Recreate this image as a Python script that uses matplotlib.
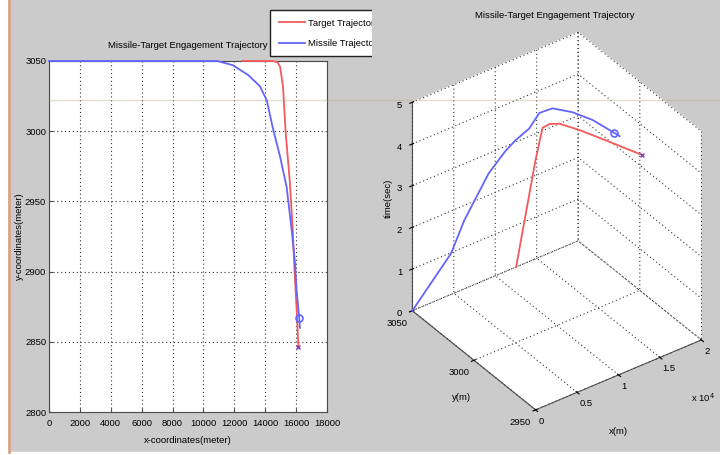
import matplotlib

matplotlib.use("Agg")
import matplotlib.pyplot as plt
from matplotlib.lines import Line2D
from matplotlib.patches import Rectangle
from matplotlib.ticker import FuncFormatter

# --- left panel: x-y engagement -------------------------------------------
target_x = [12500, 14500, 14800, 14960, 15150, 15325, 15600, 15780, 15900, 16050, 16150]
target_y = [3050, 3050, 3049, 3046, 3032, 2999, 2963, 2930, 2900, 2870, 2846]
missile_x = [0, 10900, 11900, 12900, 13660, 14100, 14520, 14960, 15390, 15710,
             15930, 16030, 16200, 16250]
missile_y = [3050, 3050, 3047, 3040, 3032, 3022, 3001, 2982, 2960, 2930,
             2906, 2887, 2867, 2860]
missile_end = (16200, 2867)
target_end = (16150, 2846)

xticks = list(range(0, 18001, 2000))
yticks = list(range(2800, 3051, 50))

# --- right panel: x, y, time ----------------------------------------------
target3_x = [12520, 14840, 15700, 16110, 16270, 16440, 16590, 17020]
target3_y = [3050, 3050, 3050, 3047, 3040, 3025, 3005, 2978]
target3_t = [0.0, 2.35, 3.07, 3.20, 3.36, 3.55, 3.77, 4.02]
missile3_x = [0, 4660, 6260, 9200, 11170, 12390, 13800, 14580, 15410, 16040,
              16370, 16620, 16680]
missile3_y = [3050, 3050, 3050, 3050, 3050, 3050, 3048, 3045, 3040, 3028,
              3014, 2998, 2994]
missile3_t = [0.0, 0.98, 1.64, 2.52, 2.88, 3.04, 3.26, 3.64, 3.80, 3.94,
              4.06, 4.11, 4.12]

title = "Missile-Target Engagement Trajectory"
BG = "#cbcbcb"
RED = "#f45a5a"
BLUE = "#6464ff"
AX = "#4a4a4a"
FS = 6.8

plt.rcParams["font.family"] = ["Liberation Sans", "DejaVu Sans"]
plt.rcParams["font.size"] = FS
plt.rcParams["grid.linestyle"] = (0, (1, 2.5))
plt.rcParams["grid.color"] = "#333333"
plt.rcParams["grid.linewidth"] = 0.8

fig = plt.figure(figsize=(7.2, 4.55), dpi=100, facecolor=BG)

W, H = 720, 455
ax = fig.add_axes([49 / W, 1 - 412 / H, 278 / W, 351 / H])
ax.plot(target_x, target_y, color=RED, lw=1.3, label="Target Trajectory",
        clip_on=False, zorder=4)
ax.plot(missile_x, missile_y, color=BLUE, lw=1.3, label="Missile Trajectory",
        clip_on=False, zorder=4)
ax.plot(*missile_end, "o", ms=5, mfc="none", mec=BLUE, mew=1.2, zorder=5)
ax.plot(*target_end, "x", ms=3, color="#8040c0", mew=1, zorder=5)
ax.set_xlim(0, 18000)
ax.set_ylim(2800, 3050)
ax.set_xticks(xticks)
ax.set_yticks(yticks)
ax.grid(True)
ax.tick_params(direction="in", length=3, color=AX, pad=2)
ax.tick_params(axis="x", pad=5)
for s in ax.spines.values():
    s.set_color(AX)
ax.set_title(title, pad=9, fontsize=FS)
ax.set_xlabel("x-coordinates(meter)", labelpad=6)
ax.set_ylabel("y-coordinates(meter)")
ax.yaxis.set_label_coords(-0.09, 0.5)
leg = ax.legend(loc="upper left", bbox_to_anchor=(270 / W, 1 - 10 / H),
                bbox_transform=fig.transFigure, borderaxespad=0, fancybox=False,
                framealpha=1, edgecolor="#222222", handlelength=2.8,
                handletextpad=0.3, borderpad=0.9, labelspacing=1.2)
leg.get_frame().set_linewidth(1.0)

# gray strip that hides the part of the legend running into the right panel
fig.add_artist(Rectangle((372 / W, 1 - 70 / H), 1, 70 / H, transform=fig.transFigure,
                         facecolor=BG, edgecolor="none", zorder=1))

# --- 3-D panel ----------------------------------------------------------
ax3 = fig.add_axes([371 / W, 1 - 452 / H, 362 / W, 452 / H], projection="3d")
ax3.set_zorder(1.5)
ax3.set_facecolor("none")
ax3.set_proj_type("ortho")
ax3.view_init(elev=35.6, azim=-125.9)
ax3.set_box_aspect((206, 211.6, 258), zoom=1.045)
ax3.plot(target3_x, target3_y, target3_t, color=RED, lw=1.3)
ax3.plot(missile3_x, missile3_y, missile3_t, color=BLUE, lw=1.3)
ax3.plot([missile3_x[-2]], [missile3_y[-2]], [missile3_t[-2]], "o", ms=5,
         mfc="none", mec=BLUE, mew=1.2)
ax3.plot([target3_x[-1]], [target3_y[-1]], [target3_t[-1]], "x", ms=3,
         color="#8040c0", mew=1)
ax3.set_xlim(0, 20000)
ax3.set_ylim(2950, 3050)
ax3.set_zlim(0, 5)
ax3.set_xticks([0, 5000, 10000, 15000, 20000])
ax3.xaxis.set_major_formatter(FuncFormatter(lambda v, p: f"{v / 1e4:g}"))
ax3.set_yticks([2950, 3000, 3050])
ax3.set_zticks([0, 1, 2, 3, 4, 5])
ax3.tick_params(axis="x", pad=-5)
ax3.tick_params(axis="y", pad=-4)
ax3.tick_params(axis="z", pad=-2)
for lab in ax3.get_yticklabels():
    lab.set_ha("right")
for lab in ax3.get_xticklabels():
    lab.set_ha("left")
for a in (ax3.xaxis, ax3.yaxis, ax3.zaxis):
    a.set_pane_color((1, 1, 1, 1))
    a.pane.set_edgecolor("white")
    a.line.set_color(AX)
fig.text(703 / W, 1 - 398 / H, r"x 10$^4$", ha="center", va="center", zorder=3)
fig.text(555 / W, 1 - 15 / H, title, ha="center", va="center", zorder=3)
fig.text(618 / W, 1 - 431 / H, "x(m)", ha="center", va="center", zorder=3)
fig.text(462 / W, 1 - 398 / H, "y(m)", ha="center", va="center", zorder=3)
fig.text(388 / W, 1 - 198 / H, "time(sec)", ha="center", va="center", rotation=90,
         zorder=3)

# screenshot edges
fig.add_artist(Line2D([49 / W, 1], [1 - 100 / H] * 2, color="#b0a080", alpha=0.35,
                      lw=1, zorder=3))
fig.add_artist(Rectangle((0, 0), 8 / W, 1, transform=fig.transFigure,
                         color="white", zorder=5))
fig.add_artist(Line2D([9 / W] * 2, [3 / H, 1], color="#d8a486", lw=2, zorder=6))
fig.add_artist(Rectangle((0, 0), 1, 3 / H, transform=fig.transFigure,
                         color="white", zorder=5))

fig.savefig("out.png", dpi=100, facecolor=BG)
